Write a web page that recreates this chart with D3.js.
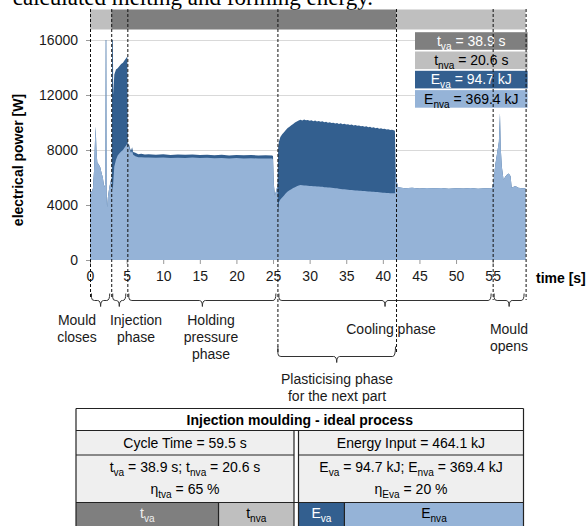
<!DOCTYPE html>
<html>
<head>
<meta charset="utf-8">
<script src="https://cdn.jsdelivr.net/npm/d3@7"></script>
<style>
  body { margin: 0; background: #fff; }
  svg { display: block; font-family: Arial, "Liberation Sans", sans-serif; }
</style>
</head>
<body>
<svg id="chart" width="587" height="526"></svg>
<script>
// ---- Measured power trace: [time s, total power W, base (non value-adding) power W] ----
const mouldClosing = [
  [0.00, 5100, 5100], [0.20, 4950, 4950], [0.40, 5200, 5200], [0.55, 6500, 6500],
  [0.70, 9000, 9000], [0.78, 9700, 9700], [0.88, 8000, 8000], [1.00, 7100, 7100],
  [1.20, 6950, 6950], [1.40, 6750, 6750], [1.55, 6400, 6400], [1.75, 6000, 6000],
  [1.95, 5300, 5300], [2.10, 5600, 5600], [2.15, 17000, 17000], [2.22, 17000, 17000],
  [2.27, 4800, 4800], [2.33, 3800, 3800], [2.45, 4600, 4600], [2.64, 5300, 5300],
  [2.85, 5800, 5800]
];
const injection = [
  [2.98, 6000, 6000], [3.03, 17000, 5300], [3.12, 17000, 5100], [3.17, 12000, 5600],
  [3.32, 13500, 6800], [3.55, 13850, 7300], [3.78, 13950, 7600], [4.00, 14100, 7750],
  [4.25, 14250, 7900], [4.50, 14350, 8000], [4.75, 14550, 8200], [4.95, 14700, 8350],
  [5.10, 14800, 8480]
];
const holding = [
  [5.16, 8250, 8250], [5.30, 8500, 8300], [5.45, 8150, 8000], [5.60, 7950, 7800],
  [5.75, 8200, 7950], [5.90, 7850, 7650], [6.20, 7800, 7550], [6.60, 7700, 7480],
  [7.00, 7720, 7470], [7.50, 7680, 7450], [8.00, 7700, 7460], [9.00, 7660, 7430],
  [10.0, 7690, 7450], [11.0, 7640, 7420], [12.0, 7670, 7440], [13.0, 7650, 7420],
  [14.0, 7680, 7450], [15.0, 7640, 7410], [16.0, 7660, 7430], [17.0, 7620, 7400],
  [18.0, 7650, 7420], [19.0, 7600, 7380], [20.0, 7640, 7410], [21.0, 7610, 7390],
  [22.0, 7630, 7400], [23.0, 7600, 7380], [24.0, 7620, 7390], [24.9, 7600, 7380],
  [25.0, 7550, 7300], [25.10, 5600, 5600], [25.25, 4700, 4700], [25.45, 5100, 5100],
  [25.62, 5400, 5400]
];
const plasticising = [
  [25.70, 8200, 3400], [25.80, 8600, 4200], [26.00, 8950, 4400], [26.25, 9150, 4550],
  [26.50, 9300, 4700], [26.75, 9450, 4850], [27.00, 9600, 4980], [27.25, 9700, 5080],
  [27.50, 9800, 5150], [27.75, 9900, 5230], [28.00, 10000, 5300], [28.25, 10080, 5360],
  [28.50, 10150, 5420], [28.75, 10200, 5450], [29.00, 10150, 5440], [29.25, 10220, 5420],
  [29.50, 10160, 5410], [29.75, 10190, 5400], [30.00, 10120, 5390], [30.25, 10170, 5380],
  [30.50, 10100, 5370], [30.75, 10140, 5370], [31.00, 10080, 5350], [31.25, 10110, 5340],
  [31.50, 10050, 5330], [31.75, 10090, 5320], [32.00, 10020, 5300], [32.25, 10060, 5290],
  [32.50, 9980, 5280], [32.75, 10020, 5270], [33.00, 9960, 5250], [33.25, 9990, 5240],
  [33.50, 9920, 5220], [33.75, 9960, 5210], [34.00, 9900, 5190], [34.25, 9940, 5170],
  [34.50, 9880, 5150], [34.75, 9910, 5140], [35.00, 9850, 5120], [35.25, 9880, 5110],
  [35.50, 9810, 5100], [35.75, 9850, 5090], [36.00, 9790, 5070], [36.25, 9820, 5060],
  [36.50, 9760, 5050], [36.75, 9790, 5040], [37.00, 9720, 5030], [37.25, 9750, 5020],
  [37.50, 9690, 5010], [37.75, 9720, 5000], [38.00, 9660, 4990], [38.25, 9690, 4980],
  [38.50, 9620, 4970], [38.75, 9650, 4960], [39.00, 9590, 4950], [39.25, 9610, 4940],
  [39.50, 9550, 4920], [39.75, 9580, 4910], [40.00, 9520, 4900], [40.25, 9540, 4890],
  [40.50, 9490, 4880], [40.75, 9510, 4870], [41.00, 9460, 4860], [41.25, 9480, 4850],
  [41.50, 9430, 4850], [41.65, 9400, 4850]
];
const cooling = [
  [41.75, 6600, 6600], [41.90, 5700, 5700], [42.10, 5300, 5300], [43.0, 5220, 5220],
  [44.0, 5250, 5250], [45.0, 5200, 5200], [46.0, 5240, 5240], [47.0, 5210, 5210],
  [48.0, 5230, 5230], [49.0, 5190, 5190], [50.0, 5220, 5220], [51.0, 5200, 5200],
  [52.0, 5230, 5230], [53.0, 5190, 5190], [54.0, 5220, 5220], [54.9, 5200, 5200]
];
const mouldOpening = [
  [55.10, 5700, 5700], [55.35, 6900, 6900], [55.60, 7750, 7750], [55.85, 8600, 8600],
  [56.00, 10700, 10700], [56.10, 8200, 8200], [56.25, 6800, 6800], [56.50, 5800, 5800],
  [56.70, 6050, 6050], [56.95, 6200, 6200], [57.20, 6300, 6300], [57.45, 6100, 6100],
  [57.60, 5250, 5250], [58.10, 5380, 5380], [58.50, 5250, 5250], [59.00, 5210, 5210],
  [59.50, 5210, 5210]
];

// ---- Axis ticks ----
const xTicks = [0, 5, 10, 15, 20, 25, 30, 35, 40, 45, 50, 55];
const yTicks = [0, 4000, 8000, 12000, 16000];

// ---- Phase boundaries [s] and value-adding time window ----
const phaseBounds = [0, 2.9, 5.1, 25.6, 41.8, 55.0, 59.5];
const valueAddedWindow = [2.9, 41.8];

// ---- Key figures ----
const cycleTime = 59.5;
const tVa = 38.9, tNva = 20.6;
const eVa = 94.7, eNva = 369.4;
const energyInput = 464.1;

const colors = {
  tVa: "#7f7f7f", tNva: "#bfbfbf", eVa: "#335f8f", eNva: "#95b3d7",
  grid: "#d9d9d9", text: "#1a1a1a"
};

const samples = [].concat(mouldClosing, injection, holding, plasticising, cooling, mouldOpening);

const svg = d3.select("#chart");
const x = d3.scaleLinear().domain([0, cycleTime]).range([90, 525.6]);
const y = d3.scaleLinear().domain([0, 16000]).range([260, 40]);

// caption line of the surrounding document
svg.append("text").attr("x", 373).attr("y", 5).attr("text-anchor", "end")
  .style("font-family", "'Liberation Serif', 'Times New Roman', serif")
  .style("font-size", "23px").attr("fill", "#000")
  .text("calculated melting and forming energy.");

// top bar: value-adding vs non value-adding time
const barSegs = [
  [0, valueAddedWindow[0], colors.tNva],
  [valueAddedWindow[0], valueAddedWindow[1], colors.tVa],
  [valueAddedWindow[1], cycleTime, colors.tNva]
];
svg.append("g").selectAll("rect").data(barSegs).join("rect")
  .attr("x", d => x(d[0])).attr("width", d => x(d[1]) - x(d[0]))
  .attr("y", 9.5).attr("height", 20).attr("fill", d => d[2]);

// gridlines
svg.append("g").selectAll("line").data(yTicks.filter(v => v > 0)).join("line")
  .attr("x1", x(0)).attr("x2", x(cycleTime))
  .attr("y1", d => y(d) + 0.5).attr("y2", d => y(d) + 0.5)
  .attr("stroke", colors.grid).attr("stroke-width", 1.2);

// power areas
svg.append("clipPath").attr("id", "plotClip").append("rect")
  .attr("x", x(0)).attr("y", y(16000)).attr("width", x(cycleTime) - x(0)).attr("height", y(0) - y(16000));

const plot = svg.append("g").attr("clip-path", "url(#plotClip)");
plot.append("path").datum(samples)
  .attr("d", d3.area().x(d => x(d[0])).y0(y(0)).y1(d => y(d[1])))
  .attr("fill", colors.eVa);
plot.append("path").datum(samples)
  .attr("d", d3.area().x(d => x(d[0])).y0(y(0)).y1(d => y(d[2])))
  .attr("fill", colors.eNva);

// axes
const yAxis = svg.append("g").attr("transform", `translate(${x(0)},0)`)
  .call(d3.axisLeft(y).tickValues(yTicks).tickSize(4).tickPadding(8).tickFormat(d3.format("d")));
yAxis.select(".domain").remove();
yAxis.selectAll("line").attr("stroke", "#999");
yAxis.selectAll("text").style("font-size", "14px").attr("fill", colors.text).style("font-family", "Arial, 'Liberation Sans', sans-serif");

const xAxis = svg.append("g").attr("transform", `translate(0,${y(0)})`)
  .call(d3.axisBottom(x).tickValues(xTicks).tickSize(4).tickPadding(7));
xAxis.select(".domain").remove();
xAxis.selectAll("line").attr("stroke", "#999");
xAxis.selectAll("text").style("font-size", "14px").attr("fill", colors.text).style("font-family", "Arial, 'Liberation Sans', sans-serif");

svg.append("text").attr("transform", "translate(23,160) rotate(-90)")
  .attr("text-anchor", "middle").style("font-size", "14px").style("font-weight", "bold")
  .attr("fill", "#000").text("electrical power [W]");
svg.append("text").attr("x", 536).attr("y", 283)
  .style("font-size", "14px").style("font-weight", "bold").attr("fill", "#000").text("time [s]");

// text with subscript pieces: parts = [[string, isSub], ...]
function rich(sel, parts, size) {
  let shifted = false;
  parts.forEach(([s, sub]) => {
    const ts = sel.append("tspan").text(s);
    if (sub) { ts.style("font-size", (size * 0.72) + "px").attr("dy", shifted ? 0 : size * 0.28); shifted = true; }
    else { ts.attr("dy", shifted ? -size * 0.28 : 0); shifted = false; }
  });
  return sel;
}

// legend
const legend = [
  { parts: [["t"], ["va", 1], [" = " + tVa + " s"]], fill: colors.tVa, ink: "#fff" },
  { parts: [["t"], ["nva", 1], [" = " + tNva + " s"]], fill: colors.tNva, ink: "#000" },
  { parts: [["E"], ["va", 1], [" = " + eVa + " kJ"]], fill: colors.eVa, ink: "#fff" },
  { parts: [["E"], ["nva", 1], [" = " + eNva + " kJ"]], fill: colors.eNva, ink: "#000" }
];
const lg = svg.append("g");
legend.forEach((d, i) => {
  const y0 = 32.2 + i * 19.3;
  lg.append("rect").attr("x", 415).attr("y", y0).attr("width", 112.6).attr("height", 17.6).attr("fill", d.fill);
  rich(lg.append("text").attr("x", 471.3).attr("y", y0 + 13.6).attr("text-anchor", "middle")
    .style("font-size", "14px").attr("fill", d.ink), d.parts, 14);
});

// phase brackets
function bracket(x1, x2, yl, up, down) {
  const xc = (x1 + x2) / 2, r = 3;
  return `M${x1},${yl - up} L${x1},${yl - r} Q${x1},${yl} ${x1 + r},${yl} L${xc - r},${yl} Q${xc},${yl} ${xc},${yl + down}` +
         ` M${xc},${yl + down} Q${xc},${yl} ${xc + r},${yl} L${x2 - r},${yl} Q${x2},${yl} ${x2},${yl - up}`;
}
const upperBrackets = [[0, 1], [1, 2], [2, 3], [3, 5], [5, 6]];
const bg = svg.append("g").attr("fill", "none").attr("stroke", "#333").attr("stroke-width", 1);
upperBrackets.forEach(([a, b]) => {
  bg.append("path").attr("d", bracket(x(phaseBounds[a]) + 1.5, x(phaseBounds[b]) - 1.5, 300.5, 7, 6));
});
bg.append("path").attr("d", bracket(x(phaseBounds[3]) + 0.5, x(phaseBounds[4]) - 0.5, 356.5, 10, 6));

// dashed phase separators
const dashEnds = [297, 297, 297, 354, 354, 300, 300];
svg.append("g").selectAll("line").data(phaseBounds).join("line")
  .attr("x1", d => x(d) + 0.5).attr("x2", d => x(d) + 0.5)
  .attr("y1", 9).attr("y2", (d, i) => dashEnds[i])
  .attr("stroke", "#111").attr("stroke-width", 1).attr("stroke-dasharray", "3,2");

// phase names
const phaseLabels = [
  { lines: ["Mould", "closes"], cx: 77, y: 325 },
  { lines: ["Injection", "phase"], cx: 136, y: 325 },
  { lines: ["Holding", "pressure", "phase"], cx: 211, y: 325 },
  { lines: ["Cooling phase"], cx: 391, y: 334 },
  { lines: ["Mould", "opens"], cx: 509, y: 334 },
  { lines: ["Plasticising phase", "for the next part"], cx: 337, y: 384 }
];
phaseLabels.forEach(p => {
  const t = svg.append("text").attr("text-anchor", "middle").style("font-size", "14px").attr("fill", colors.text);
  p.lines.forEach((l, i) => t.append("tspan").attr("x", p.cx).attr("y", p.y + i * 17.2).text(l));
});

// summary table
const T = { left: 76, mid1: 294, mid2: 298.5, right: 523.5, top: 408.5, r1: 430.5, r2: 455, r3: 502.5, bottom: 526 };
const tab = svg.append("g");
tab.append("rect").attr("x", T.left).attr("y", T.top).attr("width", T.right - T.left).attr("height", T.r1 - T.top).attr("fill", "#fff");
tab.append("rect").attr("x", T.left).attr("y", T.r1).attr("width", T.mid1 - T.left).attr("height", T.r3 - T.r1).attr("fill", "#efefef");
tab.append("rect").attr("x", T.mid2).attr("y", T.r1).attr("width", T.right - T.mid2).attr("height", T.r3 - T.r1).attr("fill", "#efefef");

// share bars
const tShare = d3.scaleLinear().domain([0, cycleTime]).range([T.left, T.mid1]);
const eShare = d3.scaleLinear().domain([0, energyInput]).range([T.mid2, T.right]);
const shareBars = [
  { x0: tShare(0), x1: tShare(tVa), fill: colors.tVa, ink: "#eee", parts: [["t"], ["va", 1]] },
  { x0: tShare(tVa), x1: tShare(tVa + tNva), fill: colors.tNva, ink: "#000", parts: [["t"], ["nva", 1]] },
  { x0: eShare(0), x1: eShare(eVa), fill: colors.eVa, ink: "#fff", parts: [["E"], ["va", 1]] },
  { x0: eShare(eVa), x1: eShare(eVa + eNva), fill: colors.eNva, ink: "#000", parts: [["E"], ["nva", 1]] }
];
shareBars.forEach(b => {
  tab.append("rect").attr("x", b.x0).attr("y", T.r3).attr("width", b.x1 - b.x0).attr("height", T.bottom - T.r3).attr("fill", b.fill);
  rich(tab.append("text").attr("x", (b.x0 + b.x1) / 2).attr("y", 518).attr("text-anchor", "middle")
    .style("font-size", "14px").attr("fill", b.ink), b.parts, 14);
});

// table lines
const tl = tab.append("g").attr("stroke", "#222").attr("stroke-width", 1.2).attr("fill", "none");
[[T.left, T.top, T.right, T.top], [T.left, T.r1, T.right, T.r1],
 [T.left, T.r2, T.mid1, T.r2], [T.mid2, T.r2, T.right, T.r2],
 [T.left, T.r3, T.right, T.r3],
 [T.mid1, T.r1, T.mid1, T.bottom], [T.mid2, T.r1, T.mid2, T.bottom],
 [T.right, T.top, T.right, T.bottom], [T.left, T.top, T.left, T.bottom],
 [tShare(tVa), T.r3, tShare(tVa), T.bottom], [eShare(eVa), T.r3, eShare(eVa), T.bottom]
].forEach(l => tl.append("line").attr("x1", l[0]).attr("y1", l[1]).attr("x2", l[2]).attr("y2", l[3]));

const lc = (T.left + T.mid1) / 2, rc = (T.mid2 + T.right) / 2;
tab.append("text").attr("x", (T.left + T.right) / 2).attr("y", 425).attr("text-anchor", "middle")
  .style("font-size", "14px").style("font-weight", "bold").attr("fill", "#000").text("Injection moulding - ideal process");
const cell = (cx, yy, parts) => rich(tab.append("text").attr("x", cx).attr("y", yy).attr("text-anchor", "middle")
  .style("font-size", "14px").attr("fill", "#000"), parts, 14);
cell(lc, 448, [["Cycle Time = " + cycleTime + " s"]]);
cell(rc, 448, [["Energy Input = " + energyInput + " kJ"]]);
cell(lc, 472, [["t"], ["va", 1], [" = " + tVa + " s; t"], ["nva", 1], [" = " + tNva + " s"]]);
cell(rc, 472, [["E"], ["va", 1], [" = " + eVa + " kJ; E"], ["nva", 1], [" = " + eNva + " kJ"]]);
cell(lc, 494, [["η"], ["tva", 1], [" = " + Math.round(tVa / cycleTime * 100) + " %"]]);
cell(rc, 494, [["η"], ["Eva", 1], [" = " + Math.round(eVa / energyInput * 100) + " %"]]);
</script>
</body>
</html>
